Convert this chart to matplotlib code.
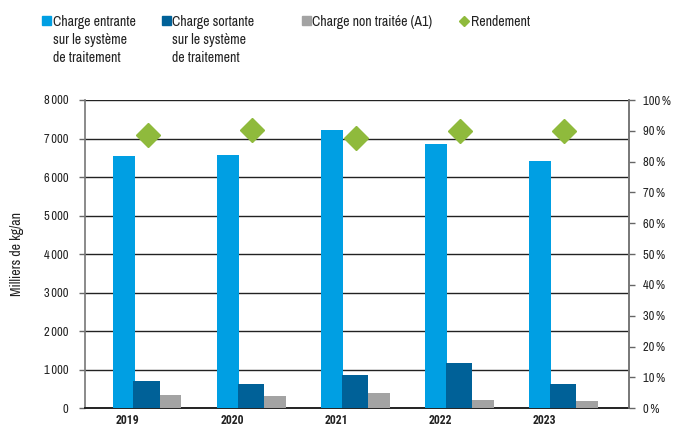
import matplotlib
matplotlib.use("Agg")
import matplotlib.pyplot as plt
from matplotlib.patches import Rectangle
from matplotlib.lines import Line2D
import numpy as np

plt.rcParams['font.family'] = ['Archivo Narrow', 'Roboto Condensed', 'DejaVu Sans']

years = ["2019", "2020", "2021", "2022", "2023"]
charge_entrante = [6550, 6580, 7230, 6865, 6420]
charge_sortante = [710, 630, 865, 1180, 630]
charge_non_traitee = [345, 320, 400, 215, 190]
rendement = [88.5, 90.4, 87.7, 89.8, 90.1]

left_ticks = [0, 1000, 2000, 3000, 4000, 5000, 6000, 7000, 8000]
left_labels = ["0", "1\u2009000", "2\u2009000", "3\u2009000", "4\u2009000", "5\u2009000", "6\u2009000", "7\u2009000", "8\u2009000"]
right_ticks = [0, 10, 20, 30, 40, 50, 60, 70, 80, 90, 100]
right_labels = [f"{v}\u2009%" for v in right_ticks]

c_light = "#009fe3"
c_dark = "#006198"
c_grey = "#a3a3a3"
c_green = "#8fba3c"
c_text = "#222222"

fig = plt.figure(figsize=(6.73, 4.28), dpi=100)
ax = fig.add_axes([85/673, 1-408.3/428, (629-85)/673, (408.3-100)/428])

x = np.arange(len(years))
w = 0.21
ax.bar(x - 0.23, charge_entrante, width=w, color=c_light, zorder=3)
ax.bar(x - 0.01, charge_sortante, width=0.25, color=c_dark, zorder=3)
ax.bar(x + 0.22, charge_non_traitee, width=w, color=c_grey, zorder=3)

ax.set_xlim(-0.6, 4.62)
ax.set_ylim(0, 8000)
ax.set_yticks(left_ticks)
ax.set_yticklabels(left_labels)
for t in left_ticks[1:]:
    ax.axhline(t, color="#222222", lw=1.0, zorder=1)
ax.set_xticks(x - 0.19)
ax.set_xticklabels(years, fontweight="bold", family=['Roboto Condensed', 'DejaVu Sans'])
ax.tick_params(axis='x', length=0, pad=4, labelsize=8.5, colors=c_text)
ax.tick_params(axis='y', length=4, width=1, color="#666666", labelsize=9, labelcolor=c_text, pad=8)
ax.spines["top"].set_visible(False)
ax.spines["left"].set_color("#777777")
ax.spines["left"].set_linewidth(1.2)
ax.spines["right"].set_color("#777777")
ax.spines["right"].set_linewidth(1.2)
ax.spines["bottom"].set_color("#222222")
ax.spines["bottom"].set_linewidth(1.4)
ax.set_ylabel("Milliers de kg/an", fontsize=10, color=c_text, labelpad=14)

ax2 = ax.twinx()
ax2.set_ylim(0, 100)
ax2.set_yticks(right_ticks)
ax2.set_yticklabels(right_labels)
ax2.tick_params(axis='y', length=4, width=1, color="#666666", labelsize=9, labelcolor=c_text, pad=6)
for s in ["top", "left", "bottom"]:
    ax2.spines[s].set_visible(False)
ax2.spines["right"].set_color("#777777")
ax2.spines["right"].set_linewidth(1.2)
ax2.plot(x, rendement, linestyle="none", marker="D", markersize=12, color=c_green, zorder=5)

# legend
def sq(x0, y0, color):
    fig.add_artist(Rectangle((x0/673, 1-y0/428), 9/673, 9/428, color=color, transform=fig.transFigure))

fs = 10
sq(42, 25, c_light)
fig.text(53/673, 1-15/428, "Charge entrante\nsur le système\nde traitement", fontsize=fs, va="top", ha="left", color=c_text, linespacing=1.35)
sq(162, 25, c_dark)
fig.text(172/673, 1-15/428, "Charge sortante\nsur le système\nde traitement", fontsize=fs, va="top", ha="left", color=c_text, linespacing=1.35)
sq(302, 25, c_grey)
fig.text(312/673, 1-15/428, "Charge non traitée (A1)", fontsize=fs, va="top", ha="left", color=c_text)
fig.add_artist(Line2D([464/673], [1-21/428], marker="D", markersize=5, color=c_green, transform=fig.transFigure))
fig.text(471/673, 1-15/428, "Rendement", fontsize=fs, va="top", ha="left", color=c_text)

fig.savefig("out.png", dpi=100)
